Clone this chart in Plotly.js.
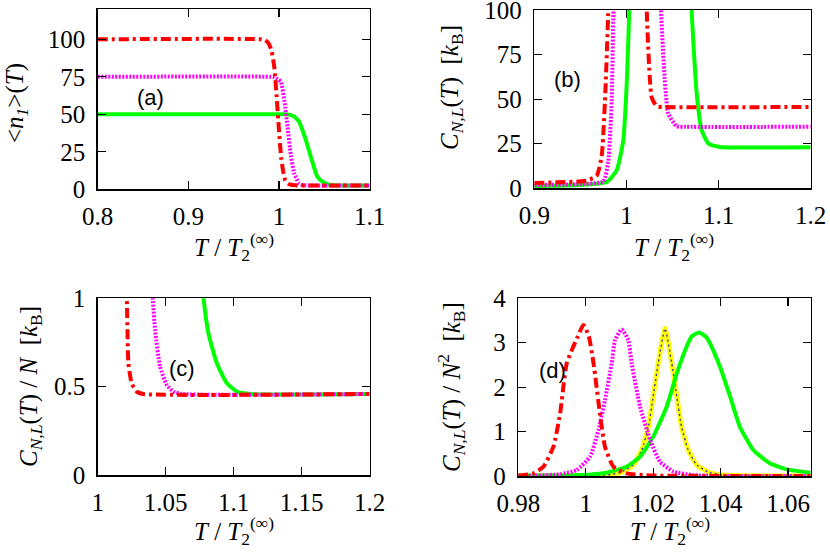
<!DOCTYPE html>
<html>
<head>
<meta charset="utf-8">
<script src="https://cdn.plot.ly/plotly-3.0.1.min.js"></script>
<style>
html,body{margin:0;padding:0;background:#fff;}
#chart{width:830px;height:560px;}
#chart svg text{font-family:'Liberation Serif' !important;}
#chart svg text.panel-label{font-family:'Liberation Sans' !important;}
</style>
</head>
<body>
<div id="chart"></div>
<script>
// ---------- Panel (a): <n1>(T) ----------
const aRedX = [0.8, 0.98, 0.985, 0.989, 0.992, 0.995, 0.9975, 1.0, 1.0025, 1.005, 1.007, 1.01, 1.013, 1.02, 1.1];
const aRedY = [100, 100, 99.3, 97, 92, 81, 62, 40, 21, 11, 6, 3.8, 3, 2.6, 2.5];
const aMagX = [0.8, 0.99, 0.995, 0.9985, 1.0022, 1.0059, 1.0095, 1.0132, 1.0169, 1.0223, 1.027, 1.035, 1.1];
const aMagY = [75, 75, 74.6, 73.5, 71.7, 59.5, 41.8, 22.6, 10.6, 4, 2.8, 2.5, 2.5];
const aGrnX = [0.8, 1.005, 1.0113, 1.017, 1.0223, 1.0297, 1.0352, 1.0425, 1.0485, 1.0535, 1.06, 1.1];
const aGrnY = [50, 50, 49.8, 48.5, 45, 32.9, 21.8, 8.4, 5, 3.5, 2.7, 2.5];

// ---------- Panel (b): C_{N,L}(T) ----------
const bRedX = [0.9, 0.9478, 0.9569, 0.9677, 0.9731, 0.9767, 0.9803, 0.982, 1.0, 1.020, 1.022, 1.0274, 1.0329, 1.040, 1.2];
const bRedY = [3.0, 3.8, 4.3, 7, 18, 49, 100, 150, 500, 150, 100, 51, 46, 45.6, 45.6];
const bMagX = [0.9, 0.95, 0.9749, 0.9803, 0.984, 0.9858, 0.9875, 1.012, 1.035, 1.0375, 1.0454, 1.0545, 1.065, 1.2];
const bMagY = [1.8, 2.4, 3.8, 15, 49, 100, 150, 500, 150, 100, 41.9, 34.8, 34.5, 34.5];
const bGrnX = [0.9, 0.9478, 0.9786, 0.9894, 0.9966, 1.0003, 1.0031, 1.005, 1.035, 1.069, 1.0708, 1.0763, 1.0817, 1.089, 1.1015, 1.2];
const bGrnY = [1.3, 1.8, 3.5, 10, 27, 58.5, 100, 150, 500, 150, 100, 53, 32.6, 25.1, 23.2, 23];

// ---------- Panel (c): C_{N,L}(T)/N ----------
const cRedX = [1.019, 1.0214, 1.0226, 1.025, 1.0287, 1.0336, 1.2];
const cRedY = [1.3, 1.0, 0.632, 0.519, 0.472, 0.4585, 0.4585];
const cMagX = [1.038, 1.0405, 1.0422, 1.0459, 1.0509, 1.0557, 1.0619, 1.2];
const cMagY = [1.3, 1.0, 0.821, 0.613, 0.509, 0.472, 0.4585, 0.4585];
const cGrnX = [1.075, 1.0779, 1.0815, 1.0877, 1.0951, 1.1025, 1.1123, 1.2];
const cGrnY = [1.3, 1.0, 0.802, 0.632, 0.519, 0.472, 0.4585, 0.4585];

// ---------- Panel (d): C_{N,L}(T)/N^2 ----------
const dRedX = [0.98, 0.9815, 0.9845, 0.98746, 0.99042, 0.9924, 0.99437, 0.9974, 0.99931, 1.0009, 1.0023, 1.0042, 1.0057, 1.0082, 1.0121, 1.018, 1.0667];
const dRedY = [0.01, 0.02, 0.06, 0.21, 0.66, 1.41, 2.54, 3.1, 3.40, 3.15, 2.54, 1.41, 0.66, 0.21, 0.06, 0.015, 0.0];
const dMagX = [0.98, 0.9855, 0.9924, 0.99733, 1.0013, 1.0038, 1.0057, 1.0077, 1.0087, 1.01067, 1.0126, 1.0136, 1.0161, 1.0191, 1.022, 1.026, 1.0319, 1.0667];
const dMagY = [0.005, 0.01, 0.04, 0.135, 0.44, 1.04, 1.71, 2.54, 3.06, 3.30, 3.06, 2.54, 1.56, 0.81, 0.32, 0.1, 0.02, 0.0];
const dYelX = [0.98, 1.0052, 1.0102, 1.0141, 1.0166, 1.0186, 1.02, 1.0215, 1.0235, 1.0255, 1.027, 1.0284, 1.0304, 1.0329, 1.0368, 1.0418, 1.0667];
const dYelY = [0.0, 0.015, 0.075, 0.25, 0.585, 1.11, 1.79, 2.54, 3.32, 2.54, 1.79, 1.11, 0.585, 0.25, 0.075, 0.015, 0.0];
const dGrnX = [0.98, 0.9983, 1.0062, 1.0121, 1.0161, 1.02, 1.024, 1.027, 1.0299, 1.0314, 1.0337, 1.0358, 1.0368, 1.0398, 1.0428, 1.0457, 1.0497, 1.0546, 1.0596, 1.0667];
const dGrnY = [0.01, 0.02, 0.075, 0.21, 0.435, 0.886, 1.56, 2.31, 2.91, 3.14, 3.23, 3.12, 2.99, 2.46, 1.79, 1.11, 0.585, 0.285, 0.15, 0.075];

const panelLabels = ['(a)', '(b)', '(c)', '(d)'];

const W = 830, H = 560;
const RED = '#ff0000', MAG = '#ff00ff', GRN = '#00ff00', YEL = '#ffff00', BLU = '#2a2ab0';
const DASHDOT = '10px,4px,3px,4px';
const DOT = '2px,1.5px';

function tr(x, y, ax, color, dash, width) {
  return {x: x, y: y, xaxis: 'x' + ax, yaxis: 'y' + ax, type: 'scatter', mode: 'lines',
          line: {color: color, dash: dash, width: width, shape: 'spline', smoothing: 0.5},
          hoverinfo: 'skip', showlegend: false};
}

const data = [
  tr(aGrnX, aGrnY, '', GRN, 'solid', 4),
  tr(aMagX, aMagY, '', MAG, DOT, 4),
  tr(aRedX, aRedY, '', RED, DASHDOT, 4),
  tr(bGrnX, bGrnY, '2', GRN, 'solid', 4),
  tr(bMagX, bMagY, '2', MAG, DOT, 4),
  tr(bRedX, bRedY, '2', RED, DASHDOT, 4),
  tr(cGrnX, cGrnY, '3', GRN, 'solid', 4),
  tr(cMagX, cMagY, '3', MAG, DOT, 4),
  tr(cRedX, cRedY, '3', RED, DASHDOT, 4),
  tr(dYelX, dYelY, '4', YEL, 'solid', 5),
  tr(dYelX, dYelY, '4', BLU, '2px,3px', 1.3),
  tr(dGrnX, dGrnY, '4', GRN, 'solid', 4),
  tr(dMagX, dMagY, '4', MAG, DOT, 4),
  tr(dRedX, dRedY, '4', RED, DASHDOT, 4)
];

const SERIF = 'Liberation Serif';
function axis(dom, range, dtick, tick0, isX, anchor) {
  return {domain: dom, range: range, dtick: dtick, tick0: tick0, tickmode: 'linear',
          ticks: 'inside', ticklen: 8, tickwidth: 1.3, tickcolor: '#000',
          showline: true, linecolor: '#000', linewidth: 1.5, mirror: 'ticks',
          showgrid: false, zeroline: false,
          tickfont: {family: SERIF, size: 25, color: '#000'}, anchor: anchor,
          automargin: false, fixedrange: true, ticklabelstandoff: isX ? 4 : 6,
          ticklabeloverflow: 'allow'};
}
const px = v => v / W, py = v => 1 - v / H;

const layout = {
  width: W, height: H, margin: {l: 0, r: 0, t: 0, b: 0},
  paper_bgcolor: '#fff', plot_bgcolor: '#fff', showlegend: false,
  font: {family: SERIF, size: 25, color: '#000'},
  xaxis:  axis([px(97.7), px(369.5)], [0.8, 1.1], 0.1, 0.8, true, 'y'),
  yaxis:  axis([py(189.3), py(9.3)], [0, 120], 25, 0, false, 'x'),
  xaxis2: axis([px(534.3), px(810.7)], [0.9, 1.2], 0.1, 0.9, true, 'y2'),
  yaxis2: axis([py(188.3), py(10)], [0, 100.0001], 25, 0, false, 'x2'),
  xaxis3: axis([px(97.7), px(369.5)], [1, 1.2], 0.05, 1, true, 'y3'),
  yaxis3: axis([py(475), py(298.3)], [0, 1.0001], 0.5, 0, false, 'x3'),
  xaxis4: axis([px(518.3), px(810.7)], [0.98, 1.0667], 0.02, 0.98, true, 'y4'),
  yaxis4: axis([py(476), py(298.3)], [0, 4.0001], 1, 0, false, 'x4'),
  annotations: []
};

const titleFont = {family: SERIF, size: 25, color: '#000'};
const labFont = {family: 'Liberation Sans', size: 22, color: '#000'};
const xT = '<i>T</i> / <i>T</i><sub>2</sub><sup>(∞)</sup>';
function ann(x, y, text, font, angle) {
  layout.annotations.push({xref: 'paper', yref: 'paper', x: px(x), y: py(y), text: text,
    showarrow: false, font: font, textangle: angle || 0, xanchor: 'center', yanchor: 'middle'});
}
ann(234, 247, xT, titleFont);
ann(674, 247, xT, titleFont);
ann(234, 531, xT, titleFont);
ann(670, 531, xT, titleFont);
ann(16, 103, '&lt;<i>n<sub>1</sub></i>&gt;(<i>T</i>)', titleFont, -90);
ann(451, 88, '<i>C<sub>N,L</sub></i>(<i>T</i>)&nbsp;&nbsp;[<i>k</i><sub>B</sub>]', titleFont, -90);
ann(30, 387, '<i>C<sub>N,L</sub></i>(<i>T</i>) / <i>N</i>&nbsp;&nbsp;[<i>k</i><sub>B</sub>]', titleFont, -90);
ann(451, 387, '<i>C<sub>N,L</sub></i>(<i>T</i>) / <i>N</i><sup>2</sup>&nbsp;&nbsp;[<i>k</i><sub>B</sub>]', titleFont, -90);
ann(150, 97, panelLabels[0], labFont);
ann(567, 80, panelLabels[1], labFont);
ann(182, 368, panelLabels[2], labFont);
ann(552, 370, panelLabels[3], labFont);

Plotly.newPlot('chart', data, layout, {staticPlot: true, displayModeBar: false}).then(function (gd) {
  gd.querySelectorAll('text').forEach(function (t) {
    if (panelLabels.indexOf(t.textContent.trim()) >= 0) t.classList.add('panel-label');
  });
});
</script>
</body>
</html>
